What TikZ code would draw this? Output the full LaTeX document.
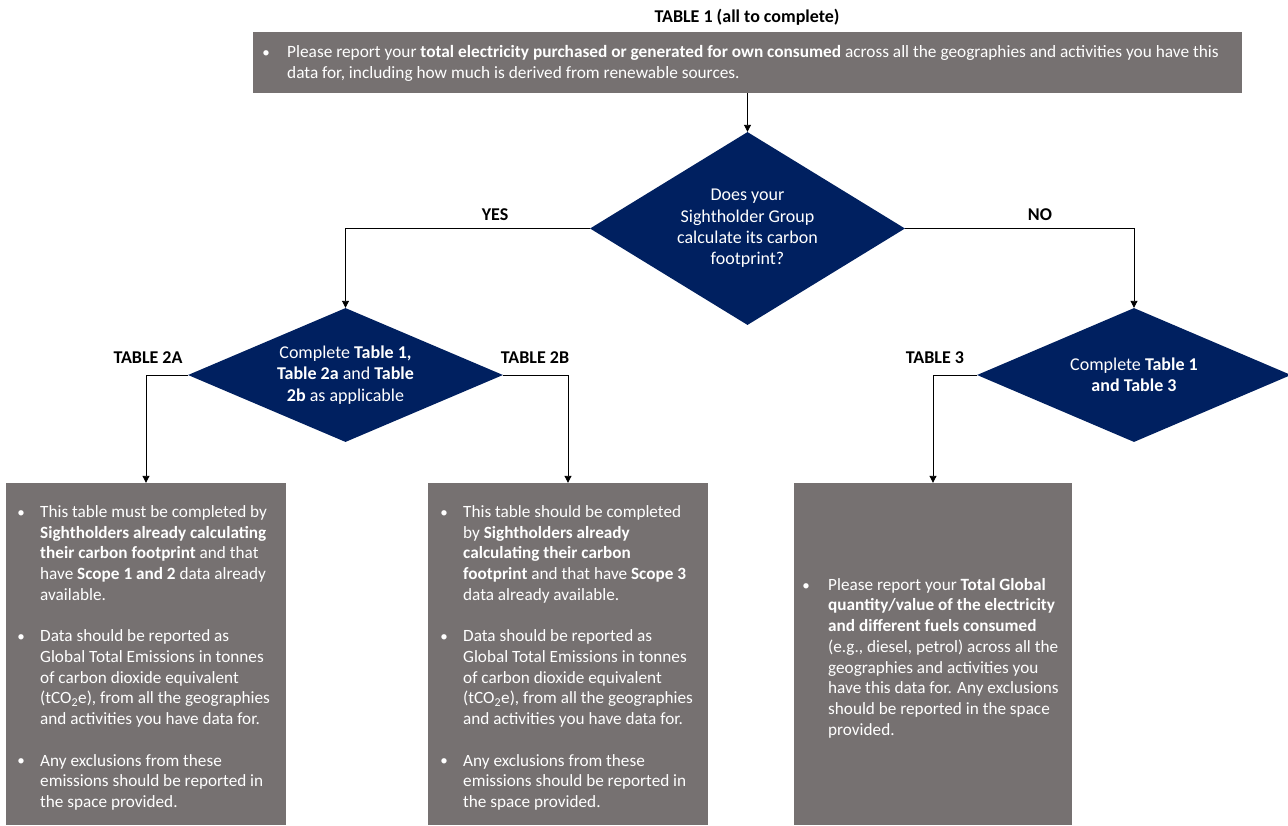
\documentclass[tikz,border=0pt]{standalone}
\usepackage{fontspec}
\setmainfont{Carlito}
\usetikzlibrary{shapes.geometric,arrows.meta}
\definecolor{boxgray}{HTML}{767171}
\definecolor{navy}{HTML}{002060}
\tikzset{
  gbox/.style={rectangle, fill=boxgray, draw=none, inner sep=0pt},
  dia/.style={diamond, fill=navy, draw=none, text=white, align=center, inner sep=0pt, font=\fontsize{18}{21.4}\selectfont},
  para/.style={anchor=north west, inner sep=0pt, align=left, text=white, font=\fontsize{17.2}{20.7}\selectfont},
  toppara/.style={para, font=\fontsize{17.3}{21}\selectfont},
  bul/.style={anchor=base, inner sep=0pt, text=white, font=\fontsize{15}{20.7}\selectfont},
  lbl/.style={inner sep=0pt, font=\bfseries\fontsize{18}{21}\selectfont},
  conn/.style={draw=black, line width=0.9pt},
  arr/.style={conn, -{Triangle[length=7pt,width=7pt]}}
}
\begin{document}
\begin{tikzpicture}[x=1pt,y=-1pt]
\fill[white] (0,0) rectangle (1288,825);
\useasboundingbox (0,0) rectangle (1288,825);

% title
\node[lbl] (title) at (747,17) {TABLE 1 (all to complete)};

% top box
\node[gbox, minimum width=989pt, minimum height=61pt] (top) at (747.5,62.5) {};
\node[bul] (topb) at (266,57.7) {•};
\node[toppara] (topt) at (287,43) {\strut Please report your \textbf{total electricity purchased or generated for own consumed} across all the geographies and activities you have this\\data for, including how much is derived from renewable sources.};

% diamonds
\node[dia, aspect=1.632, minimum width=315pt, minimum height=193pt] (d1) at (747.5,228.5) {Does your\\Sightholder Group\\calculate its carbon\\footprint?};
\node[dia, aspect=2.35, minimum width=315pt, minimum height=134pt] (d2) at (345.5,375) {Complete \textbf{Table 1,}\\\textbf{Table 2a} and \textbf{Table}\\\textbf{2b} as applicable};
\node[dia, aspect=2.35, minimum width=314pt, minimum height=134pt] (d3) at (1134,375) {Complete \textbf{Table 1}\\\textbf{and Table 3}};

% labels
\node[lbl] (yes) at (495,215) {YES};
\node[lbl] (no) at (1040,215) {NO};
\node[lbl] (t2a) at (148,358) {TABLE 2A};
\node[lbl] (t2b) at (535,358) {TABLE 2B};
\node[lbl] (t3) at (935,358) {TABLE 3};

% bottom boxes
\node[gbox, minimum width=280pt, minimum height=342pt] (boxA) at (146,654) {};
\node[gbox, minimum width=280pt, minimum height=342pt] (boxB) at (568,654) {};
\node[gbox, minimum width=278pt, minimum height=342pt] (boxC) at (933,654) {};

% box A text
\node[bul] (a1b) at (21,517.4) {•};
\node[para] (a1) at (40,502.9) {\strut This table must be completed by\\\textbf{Sightholders already calculating}\\\textbf{their carbon footprint} and that\\have \textbf{Scope 1 and 2} data already\\available.};
\node[bul] (a2b) at (21,641.6) {•};
\node[para] (a2) at (40,627.1) {\strut Data should be reported as\\Global Total Emissions in tonnes\\of carbon dioxide equivalent\\(tCO\textsubscript{2}e), from all the geographies\\and activities you have data for.};
\node[bul] (a3b) at (21,765.8) {•};
\node[para] (a3) at (40,751.3) {\strut Any exclusions from these\\emissions should be reported in\\the space provided.};

% box B text
\node[bul] (b1b) at (444,517.4) {•};
\node[para] (b1) at (463,502.9) {\strut This table should be completed\\by \textbf{Sightholders already}\\\textbf{calculating their carbon}\\\textbf{footprint} and that have \textbf{Scope 3}\\data already available.};
\node[bul] (b2b) at (444,641.6) {•};
\node[para] (b2) at (463,627.1) {\strut Data should be reported as\\Global Total Emissions in tonnes\\of carbon dioxide equivalent\\(tCO\textsubscript{2}e), from all the geographies\\and activities you have data for.};
\node[bul] (b3b) at (444,765.8) {•};
\node[para] (b3) at (463,751.3) {\strut Any exclusions from these\\emissions should be reported in\\the space provided.};

% box C text
\node[bul] (c1b) at (806,590) {•};
\node[para] (c1) at (828,575.5) {\strut Please report your \textbf{Total Global}\\\textbf{quantity/value of the electricity}\\\textbf{and different fuels consumed}\\(e.g., diesel, petrol) across all the\\geographies and activities you\\have this data for. Any exclusions\\should be reported in the space\\provided.};

% connectors
\draw[arr] (top.south) -- (d1.north);
\draw[arr] (d1.west) -| (d2.north);
\draw[arr] (d1.east) -| (d3.north);
\draw[arr] (d2.west) -| (boxA.north);
\draw[arr] (d2.east) -| (boxB.north);
\draw[arr] (d3.west) -| (boxC.north);
\end{tikzpicture}
\end{document}
